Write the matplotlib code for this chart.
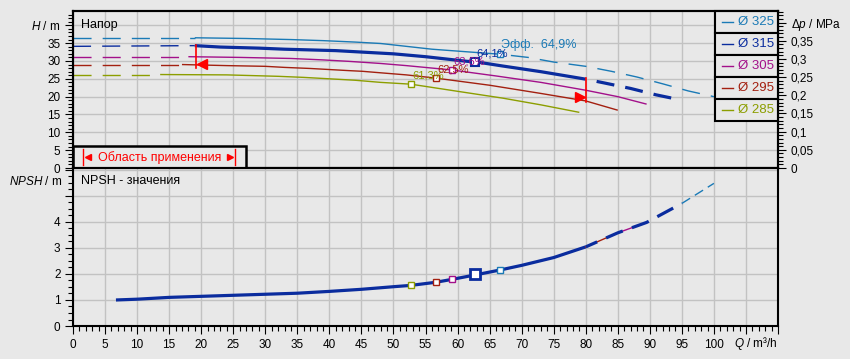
import numpy as np
import matplotlib.pyplot as plt
from matplotlib.patches import Rectangle
from matplotlib.transforms import blended_transform_factory

plt.rcParams['font.family'] = ['Liberation Sans', 'DejaVu Sans']
plt.rcParams['mathtext.fontset'] = 'custom'
plt.rcParams['mathtext.rm'] = 'Liberation Sans'
plt.rcParams['mathtext.it'] = 'Liberation Sans:italic'

# --- data (Q in m3/h, H in m) ---
q325 = [0, 19, 27, 34, 39, 44, 48, 56, 62, 66.6, 71, 75, 80, 84, 88, 92, 96, 100]
h325 = [36.5, 36.5, 36.3, 36.0, 35.7, 35.3, 34.9, 33.3, 32.5, 31.9, 31.0, 29.7, 28.5, 27.1, 25.5, 23.6, 21.6, 20.0]
q315 = [0, 19, 23, 29, 33, 41, 45, 50, 55, 61.5, 62.7, 67, 73, 80, 83, 87, 91, 95]
h315 = [34.1, 34.3, 33.9, 33.6, 33.3, 32.9, 32.5, 32.0, 31.2, 29.9, 29.8, 28.6, 27.0, 24.9, 23.8, 22.3, 20.5, 19.0]
q305 = [0, 18, 26, 34, 39, 43, 48, 52, 59, 66, 73, 80, 85, 89.5]
h305 = [31.2, 31.2, 31.0, 30.7, 30.3, 29.9, 29.3, 28.7, 27.5, 25.8, 24.0, 21.8, 20.0, 17.9]
q295 = [0, 17, 24, 30, 33, 37, 40, 43, 45.2, 47.2, 52, 56.6, 65, 73, 80, 85]
h295 = [29.0, 29.0, 28.7, 28.5, 28.2, 27.9, 27.6, 27.3, 27.1, 26.8, 26.1, 25.2, 23.2, 20.9, 18.8, 16.2]
q285 = [0, 13.6, 24, 28, 32, 36, 39, 42, 44, 46, 48, 52.7, 60, 67, 73, 79]
h285 = [26.2, 26.2, 26.1, 25.9, 25.7, 25.4, 25.1, 24.8, 24.6, 24.3, 24.0, 23.5, 21.5, 19.6, 17.7, 15.6]

# solid (catalogue) range of each curve
solid_from = {'325': 19, '315': 19, '305': 18, '295': 17, '285': 13.6}
solid_to = {'325': 66.6, '315': 80, '305': 89.5, '295': 85, '285': 79}

q_npsh = [6.7, 10, 15, 20, 25, 30, 35, 40, 45, 50, 52.7, 56.6, 59.1, 62.7, 66.6,
          70, 75, 80, 85, 89.5, 95, 100]
npsh = [1.0, 1.03, 1.1, 1.14, 1.18, 1.22, 1.26, 1.33, 1.41, 1.51, 1.56, 1.68, 1.79, 1.96, 2.15,
        2.33, 2.63, 3.04, 3.58, 3.98, 4.71, 5.48]

eff_keys = ['285', '295', '305', '315', '325']
eff_q = [52.7, 56.6, 59.1, 62.7, 66.6]
eff_h = [23.5, 25.2, 27.5, 29.8, 31.9]
eff_npsh = [1.56, 1.68, 1.81, 1.98, 2.17]
eff_txt = ['61,3%', '62,5%', '63,6%', '64,1%', 'Эфф.  64,9%']

range_q = [19.2, 80]
range_top = [34.4, 25.2]
range_bot = [28.1, 18.5]
arrow_q = [20.1, 79.1]
arrow_h = [29.2, 19.9]

legend_names = ['325', '315', '305', '295', '285']

colors = {'325': '#1a7ab6', '315': '#0a2c9e', '305': '#a3108a', '295': '#a32010', '285': '#8c9e00'}
bg = '#e8e8e8'
grid_c = '#c2c2c2'
curves = {'325': (q325, h325), '315': (q315, h315), '305': (q305, h305),
          '295': (q295, h295), '285': (q285, h285)}

fig = plt.figure(figsize=(8.5, 3.59), dpi=100, facecolor=bg)
ax = fig.add_axes([0.0859, 0.532, 0.8294, 0.4373], facecolor=bg)
axn = fig.add_axes([0.0859, 0.0919, 0.8294, 0.4401], facecolor=bg)

for a in (ax, axn):
    a.set_xlim(0, 110)
    a.set_xticks(np.arange(0, 111, 5))
    a.set_xticks(np.arange(0, 111, 1), minor=True)
    a.grid(True, which='major', color=grid_c, lw=1.0)
    a.set_axisbelow(True)
    for s in a.spines.values():
        s.set_linewidth(1.5)
        s.set_color('black')
    a.tick_params(which='major', direction='out', length=5.5, width=0.8, labelsize=8.5, colors='black')
    a.tick_params(which='minor', direction='out', length=3.6, width=0.8)

# ---- top panel: head ----
ax.set_ylim(0, 44)
ax.set_yticks(np.arange(0, 41, 5))
ax.set_yticklabels([str(v) for v in range(0, 36, 5)] + ['$H$ / m'])
ax.set_yticks(np.arange(0, 44, 1), minor=True)
ax.tick_params(axis='x', which='both', length=0, labelbottom=False)

for key in ['325', '315', '305', '295', '285']:
    q, h = np.array(curves[key][0]), np.array(curves[key][1])
    c = colors[key]
    lw = 2.3 if key == '315' else 1.0
    lo, hi = solid_from[key], solid_to[key]
    m = q <= lo
    ax.plot(q[m], h[m], color=c, lw=1.0, ls=(0, (13, 8)))
    m = (q >= lo) & (q <= hi)
    ax.plot(q[m], h[m], color=c, lw=lw, solid_capstyle='butt')
    m = q >= hi
    if m.sum() > 1:
        ax.plot(q[m], h[m], color=c, lw=lw, ls=(13 / lw, (13 / lw, 8 / lw)), dash_capstyle='butt')

# operating range markers
for qq, t, b in zip(range_q, range_top, range_bot):
    ax.plot([qq, qq], [b, t], color='red', lw=1.2)
ax.plot(arrow_q[0], arrow_h[0], marker='<', color='red', ms=7, ls='none')
ax.plot(arrow_q[1], arrow_h[1], marker='>', color='red', ms=7, ls='none')

for k, q, h, t in zip(eff_keys, eff_q, eff_h, eff_txt):
    big = k == '315'
    ax.plot(q, h, marker='s', ms=6 if big else 5, mfc='white', mec=colors[k], mew=1.5 if big else 1.0, zorder=5)
    ax.annotate(t, (q, h), xytext=(1, 2.5), textcoords='offset points', ha='left', va='bottom',
                fontsize=9 if k == '325' else 8, color=colors[k], zorder=6)

ax.text(0.011, 0.914, 'Напор', transform=ax.transAxes, fontsize=9, va='center', ha='left')

# right axis: pressure
axr = ax.twinx()
axr.set_ylim(0, 44 * 0.00981)
axr.set_yticks(np.arange(0, 0.401, 0.05))
axr.set_yticklabels(['0', '0,05', '0,1', '0,15', '0,2', '0,25', '0,3', '0,35', '$Δp$ / MPa'])
axr.set_yticks(np.arange(0, 0.431, 0.01), minor=True)
axr.tick_params(which='major', direction='out', length=5.5, width=0.8, labelsize=8.5)
axr.tick_params(which='minor', direction='out', length=3.6, width=0.8)
for s in axr.spines.values():
    s.set_linewidth(1.5)

# legend boxes
row_h = 22 / 157
leg_x = 0.9106
for i, name in enumerate(legend_names):
    y0 = 1 - (i + 1) * row_h
    ax.add_patch(Rectangle((leg_x, y0), 1 - leg_x, row_h, transform=ax.transAxes,
                           facecolor=bg, edgecolor='black', lw=1.5, zorder=8, clip_on=False))
    ax.plot([0.9206, 0.9362], [y0 + row_h / 2] * 2, color=colors[name], lw=1.0,
            transform=ax.transAxes, zorder=9)
    ax.text(0.9433, y0 + row_h / 2, 'Ø ' + name, color=colors[name], fontsize=9.5,
            transform=ax.transAxes, va='center', ha='left', zorder=9)

# "Область применения" box
ax.add_patch(Rectangle((0, 0), 0.2454, 0.140, transform=ax.transAxes, facecolor=bg,
                       edgecolor='black', lw=1.8, zorder=8))
ax.text(0.1227, 0.066, 'Область применения', color='red', fontsize=9,
        transform=ax.transAxes, ha='center', va='center', zorder=9)
for xb in (0.0138, 0.2298):
    ax.plot([xb, xb], [0.019, 0.121], color='red', lw=1.0, transform=ax.transAxes, zorder=9)
ax.plot(0.0206, 0.070, marker='<', color='red', ms=4.5, transform=ax.transAxes, zorder=9)
ax.plot(0.2220, 0.070, marker='>', color='red', ms=4.5, transform=ax.transAxes, zorder=9)

# ---- bottom panel: NPSH ----
axn.set_ylim(0, 6.07)
axn.set_yticks(np.arange(0, 7, 1))
axn.set_yticklabels(['0', '1', '2', '3', '4', '', ''])
axn.set_yticks(np.arange(0, 6.01, 0.25), minor=True)
axn.set_xticklabels([str(v) for v in range(0, 101, 5)] + ['', ''])
axn.tick_params(axis='x', pad=4)

qn, hn = np.array(q_npsh), np.array(npsh)
m = qn <= 80
axn.plot(qn[m], hn[m], color=colors['315'], lw=2.3, solid_capstyle='butt')
m = (qn >= 80) & (qn <= 85)
axn.plot(qn[m], hn[m], color=colors['295'], lw=1.0)
m = (qn >= 85) & (qn <= 89.5)
axn.plot(qn[m], hn[m], color=colors['305'], lw=1.0)
m = qn >= 95
axn.plot(qn[m], hn[m], color=colors['325'], lw=1.0, ls=(0, (7, 4)))
m = (qn >= 80) & (qn <= 95)
axn.plot(qn[m], hn[m], color=colors['315'], lw=2.3, ls=(4 / 2.3, (13 / 2.3, 7 / 2.3)), dash_capstyle='butt')

for k, q, n in zip(eff_keys, eff_q, eff_npsh):
    big = k == '315'
    axn.plot(q, n, marker='s', ms=6.5 if big else 5, mfc='white', mec=colors[k], mew=2 if big else 1.0, zorder=5)

axn.text(0.011, 0.916, 'NPSH - значения', transform=axn.transAxes, fontsize=9, va='center', ha='left')
tr = blended_transform_factory(axn.transAxes, axn.transData)
axn.text(-0.0156, 5.56, '$NPSH$ / m', transform=tr, fontsize=8.5, ha='right', va='center')
axn.text(1.0, -0.11, '$Q$ / m³/h', transform=axn.transAxes, fontsize=8.5, ha='right', va='center')

fig.savefig('out.png', dpi=100, facecolor=bg)
